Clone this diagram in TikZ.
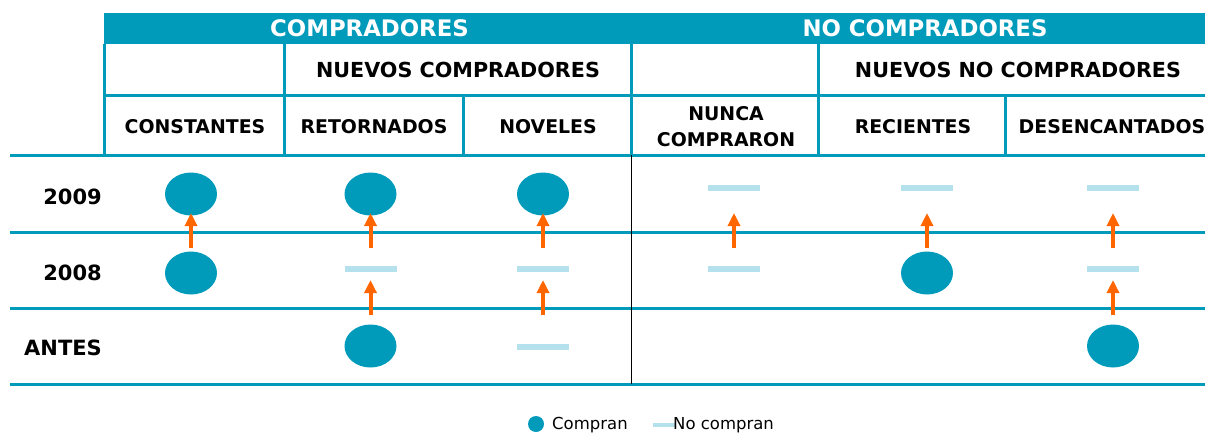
\documentclass[tikz,border=0pt]{standalone}
\usepackage{fontspec}
\setmainfont{DejaVu Sans}
\usetikzlibrary{arrows.meta,shapes.geometric}
\definecolor{tealc}{RGB}{0,155,187}
\definecolor{lblue}{RGB}{180,225,236}
\definecolor{orng}{RGB}{255,102,0}
\begin{document}
\begin{tikzpicture}[x=1pt,y=-1pt,
  buy/.style={ellipse,fill=tealc,minimum width=52pt,minimum height=43pt,inner sep=0pt},
  nobuy/.style={rectangle,fill=lblue,minimum width=52pt,minimum height=6pt,inner sep=0pt},
  arr/.style={draw=orng,line width=4pt,-{Triangle[length=13pt,width=12pt]}},
  gridl/.style={draw=tealc,line width=3pt},
  toptxt/.style={anchor=base,inner sep=0pt,text=white,font=\fontsize{22.8}{26}\selectfont\bfseries},
  subtxt/.style={anchor=base,inner sep=0pt,font=\fontsize{20.7}{24}\selectfont\bfseries},
  coltxt/.style={anchor=base,inner sep=0pt,font=\fontsize{18.9}{22}\selectfont\bfseries},
  rowtxt/.style={anchor=base east,inner sep=0pt,font=\fontsize{21}{24}\selectfont\bfseries},
  legtxt/.style={anchor=base west,inner sep=0pt,font=\fontsize{16.5}{20}\selectfont}]
\useasboundingbox (0,0) rectangle (1205,434);
\clip (0,0) rectangle (1205,434);
% header bar
\fill[tealc] (104,13) rectangle (1219,44);
% header grid
\draw[gridl] (104,44) -- (104,155);
\draw[gridl] (284,44) -- (284,155);
\draw[gridl] (631,44) -- (631,155);
\draw[gridl] (818,44) -- (818,155);
\draw[gridl] (463,95) -- (463,155);
\draw[gridl] (1005,95) -- (1005,155);
\draw[gridl] (104,95) -- (1219,95);
% row lines
\draw[gridl] (10,155) -- (1219,155);
\draw[gridl] (10,232) -- (1219,232);
\draw[gridl] (10,308) -- (1219,308);
\draw[gridl] (10,384) -- (1219,384);
\draw[black,line width=1pt] (631,155) -- (631,384);
% header texts
\node[toptxt] (hc) at (369.5,36.5) {COMPRADORES};
\node[toptxt] (hnc) at (925,36.5) {NO COMPRADORES};
\node[subtxt] (snc) at (458,77) {NUEVOS COMPRADORES};
\node[subtxt] (snnc) at (1018,77) {NUEVOS NO COMPRADORES};
\node[coltxt] (t1) at (195,133) {CONSTANTES};
\node[coltxt] (t2) at (374,133) {RETORNADOS};
\node[coltxt] (t3) at (548,133) {NOVELES};
\node[coltxt] (t4a) at (726,120) {NUNCA};
\node[coltxt] (t4b) at (726,146.7) {COMPRARON};
\node[coltxt] (t5) at (913,133) {RECIENTES};
\node[coltxt] (t6) at (1112,133) {DESENCANTADOS};
% row labels
\node[rowtxt] (r1) at (102,204) {2009};
\node[rowtxt] (r2) at (102,280) {2008};
\node[rowtxt] (r3) at (102,355) {ANTES};
% markers
\node[buy] (c1a) at (191,194) {};
\node[buy] (c1b) at (191,273) {};
\node[buy] (c2a) at (370.5,194) {};
\node[nobuy] (c2b) at (370.5,269) {};
\node[buy] (c2c) at (370.5,346) {};
\node[buy] (c3a) at (543,194) {};
\node[nobuy] (c3b) at (543,269) {};
\node[nobuy] (c3c) at (543,346.5) {};
\node[nobuy] (c4a) at (734,188) {};
\node[nobuy] (c4b) at (734,269) {};
\node[nobuy] (c5a) at (927,188) {};
\node[buy] (c5b) at (927,273) {};
\node[nobuy] (c6a) at (1113,188) {};
\node[nobuy] (c6b) at (1113,269) {};
\node[buy] (c6c) at (1113,346) {};
% arrow levels
\coordinate (g1t) at (0,213);
\coordinate (g1b) at (0,248);
\coordinate (g2t) at (0,280);
\coordinate (g2b) at (0,315);
\draw[arr] (c1b |- g1b) -- (c1a |- g1t);
\draw[arr] (c2b |- g1b) -- (c2a |- g1t);
\draw[arr] (c2c |- g2b) -- (c2b |- g2t);
\draw[arr] (c3b |- g1b) -- (c3a |- g1t);
\draw[arr] (c3c |- g2b) -- (c3b |- g2t);
\draw[arr] (c4b |- g1b) -- (c4a |- g1t);
\draw[arr] (c5b |- g1b) -- (c5a |- g1t);
\draw[arr] (c6b |- g1b) -- (c6a |- g1t);
\draw[arr] (c6c |- g2b) -- (c6b |- g2t);
% legend
\node[circle,fill=tealc,minimum size=16pt,inner sep=0pt] (lg1) at (536,424) {};
\node[legtxt] (lt1) at (552,429) {Compran};
\node[rectangle,fill=lblue,minimum width=22pt,minimum height=4pt,inner sep=0pt] (lg2) at (664,425) {};
\node[legtxt] (lt2) at (673,429) {No compran};
\end{tikzpicture}
\end{document}
